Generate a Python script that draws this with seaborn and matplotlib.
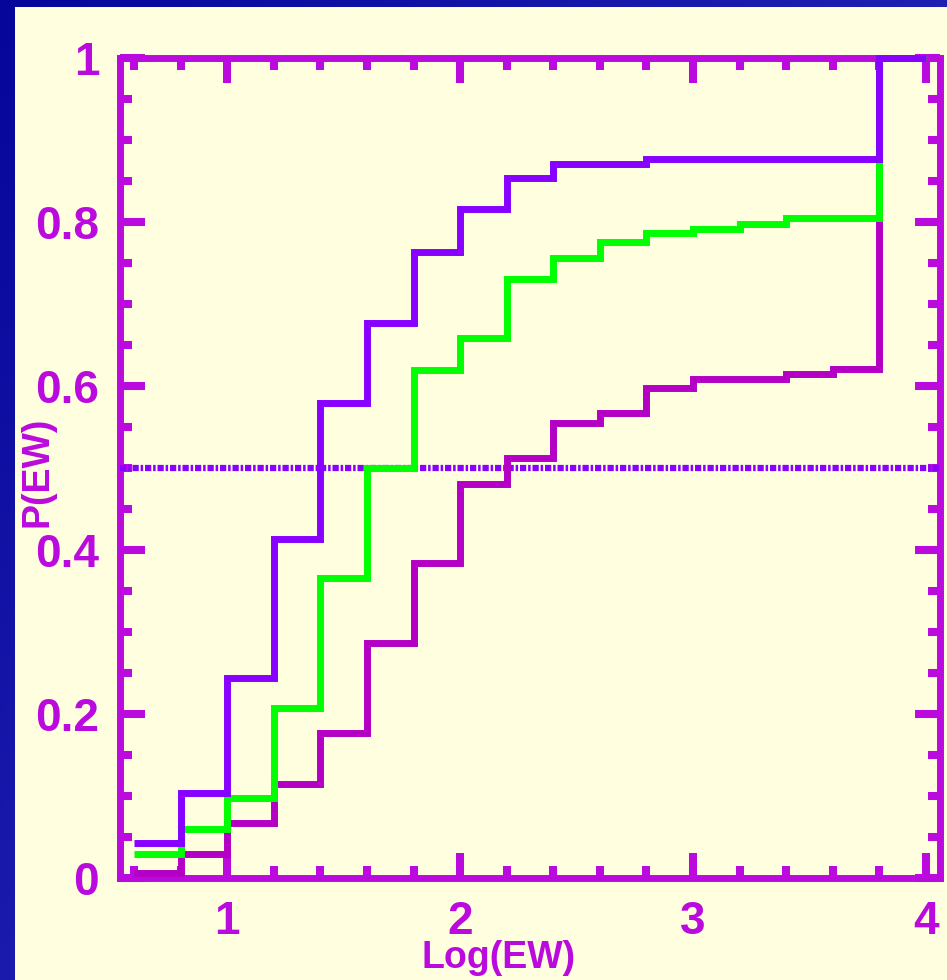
import matplotlib
matplotlib.use("Agg")
import matplotlib.pyplot as plt
import numpy as np
import pandas as pd
import seaborn as sns
from matplotlib.colors import LinearSegmentedColormap
from matplotlib.patches import Rectangle
from matplotlib.ticker import MultipleLocator, FixedLocator, FixedFormatter

# step edges on Log(EW) and cumulative fraction in each bin
bin_edges = [0.6, 0.8, 1.0, 1.2, 1.4, 1.6, 1.8, 2.0, 2.2, 2.4, 2.6, 2.8,
             3.0, 3.2, 3.4, 3.6, 3.8, 4.0]
p_violet = [0.043, 0.104, 0.244, 0.414, 0.579, 0.677, 0.763, 0.816, 0.854,
            0.871, 0.871, 0.877, 0.877, 0.877, 0.877, 0.877, 1.0]
p_green = [0.029, 0.060, 0.098, 0.207, 0.366, 0.500, 0.620, 0.659, 0.730,
           0.756, 0.775, 0.787, 0.791, 0.797, 0.805, 0.805, 1.0]
p_magenta = [0.006, 0.029, 0.067, 0.115, 0.177, 0.287, 0.384, 0.481, 0.512,
             0.555, 0.567, 0.598, 0.609, 0.609, 0.615, 0.621, 1.0]
half_level = 0.5

x_ticks = [1, 2, 3, 4]
x_tick_labels = ["1", "2", "3", "4"]
y_ticks = [0, 0.2, 0.4, 0.6, 0.8, 1.0]
y_tick_labels = ["0", "0.2", "0.4", "0.6", "0.8", "1"]

AXIS_COLOR = "#bb0add"
CREAM = "#ffffe0"
COLORS = {"magenta": "#b400c4", "green": "#00ff00", "violet": "#8800ff"}

# long table for seaborn, last value repeated so the step reaches 4.0
rows = []
for name, vals in [("magenta", p_magenta), ("green", p_green), ("violet", p_violet)]:
    for x, y in zip(bin_edges, vals + [vals[-1]]):
        rows.append({"log_ew": x, "p": y, "sample": name})
df = pd.DataFrame(rows)

sns.set_style("ticks")
plt.rcParams["font.family"] = ["Liberation Sans", "DejaVu Sans"]

W, H = 947, 980
fig = plt.figure(figsize=(W / 100, H / 100), dpi=100)

# blue slide background with a cream panel
bg = fig.add_axes([0, 0, 1, 1])
gx, gy = np.meshgrid(np.linspace(0, 1, 200), np.linspace(0, 1, 200))
grad = 0.55 * gx + 0.45 * gy
cmap = LinearSegmentedColormap.from_list("slide", ["#06069a", "#3434c6"])
bg.imshow(grad, cmap=cmap, extent=[0, 1, 0, 1], aspect="auto", origin="upper")
bg.add_patch(Rectangle((15 / W, 0), 1 - 15 / W, 1 - 7 / H,
                       transform=bg.transAxes, color=CREAM, lw=0))
bg.axis("off")

ax = fig.add_axes([120 / W, 102 / H, 820 / W, 820 / H])
ax.set_facecolor(CREAM)

sns.lineplot(data=df, x="log_ew", y="p", hue="sample",
             hue_order=["magenta", "green", "violet"], palette=COLORS,
             drawstyle="steps-post", linewidth=5, legend=False, ax=ax,
             estimator=None, sort=False, zorder=4, clip_on=False,
             solid_joinstyle="miter", solid_capstyle="butt")

ax.axhline(half_level, color=COLORS["violet"], lw=4.5,
           linestyle=(0, (1.0, 0.3, 0.4, 0.3)), zorder=3)

ax.set_xlim(0.54, 4.06)
ax.set_ylim(0, 1)

ax.xaxis.set_major_locator(FixedLocator(x_ticks))
ax.xaxis.set_major_formatter(FixedFormatter(x_tick_labels))
ax.xaxis.set_minor_locator(MultipleLocator(0.2))
ax.yaxis.set_major_locator(FixedLocator(y_ticks))
ax.yaxis.set_major_formatter(FixedFormatter(y_tick_labels))
ax.yaxis.set_minor_locator(MultipleLocator(0.05))

for side in ["left", "right", "top", "bottom"]:
    ax.spines[side].set_color(AXIS_COLOR)
    ax.spines[side].set_linewidth(5)
    ax.spines[side].set_zorder(2)

ax.tick_params(which="both", direction="in", top=True, right=True,
               color=AXIS_COLOR, width=5.8)
ax.tick_params(which="major", length=18)
ax.tick_params(which="minor", length=8.6)
ax.tick_params(axis="y", which="major", pad=15, labelsize=33,
               labelcolor=AXIS_COLOR)
ax.tick_params(axis="x", which="major", pad=16, labelsize=33,
               labelcolor=AXIS_COLOR)
for lbl in ax.get_xticklabels() + ax.get_yticklabels():
    lbl.set_fontweight("bold")

ax.set_xlabel("Log(EW)", fontsize=27, fontweight="bold", color=AXIS_COLOR)
ax.xaxis.set_label_coords(0.462, -0.0756)
ax.set_ylabel("P(EW)", fontsize=27, fontweight="bold", color=AXIS_COLOR)
ax.yaxis.label.set_va("center")
ax.yaxis.set_label_coords(-0.1, 0.495)

fig.savefig("out.png", dpi=100)
